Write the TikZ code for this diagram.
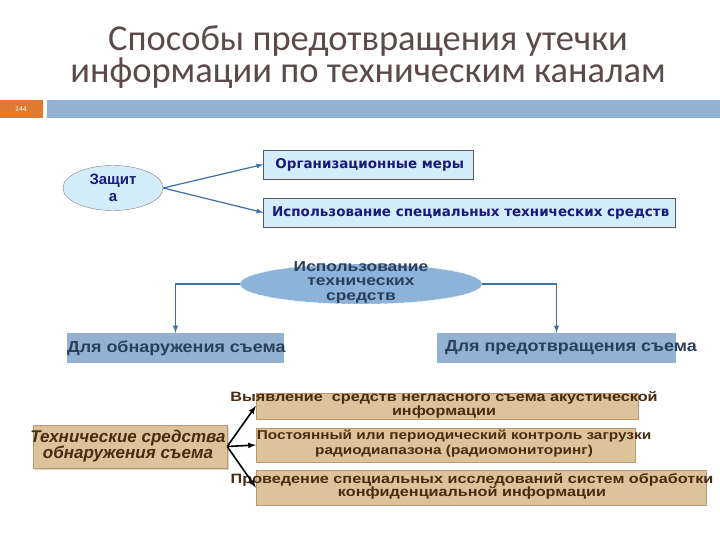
\documentclass[tikz,border=0pt]{standalone}
\usepackage{fontspec}
\setmainfont{Liberation Sans}
\newfontfamily\titlefont{Carlito}
\newfontfamily\boxfont{DejaVu Sans}
\newfontfamily\widefont[FakeStretch=1.2]{Liberation Sans}
\newfontfamily\slightwide[FakeStretch=1.12]{Liberation Sans}
\usetikzlibrary{shapes.geometric,shadows,arrows}
\definecolor{titlegray}{HTML}{5C4A4A}
\definecolor{barblue}{HTML}{93B2D2}
\definecolor{barorange}{HTML}{E07A2E}
\definecolor{paleblue}{HTML}{D3EDFA}
\definecolor{navy}{HTML}{1A1A7A}
\definecolor{steel}{HTML}{3A72A6}
\definecolor{midblue}{HTML}{8DB3D9}
\definecolor{slate}{HTML}{2A3F5C}
\definecolor{tan}{HTML}{DCC39C}
\definecolor{tanedge}{HTML}{B99A6E}
\definecolor{brown}{HTML}{4A2A10}
\tikzset{
  measure/.style={draw=gray!70!black, fill=paleblue, inner sep=0pt, anchor=west,
    minimum height=29, font=\boxfont\bfseries\fontsize{13.5}{15}\selectfont, text=navy},
  bluebox/.style={fill=barblue, inner sep=0pt, minimum height=30},
  bluetext/.style={font=\slightwide\bfseries\fontsize{16}{17}\selectfont, text=slate},
  brownbox/.style={fill=tan, draw=tanedge, inner sep=0pt},
  browntext/.style={font=\widefont\bfseries\fontsize{13.5}{13}\selectfont, text=brown, align=center},
  bluearrow/.style={->, >=latex, draw=steel, line width=1.2pt},
  blackarrow/.style={->, >=latex, draw=black, line width=1.6pt}
}
\begin{document}
\begin{tikzpicture}[x=1pt,y=-1pt]
  \useasboundingbox (0,0) rectangle (720,540);
  % title
  \node[font=\titlefont\fontsize{36.5}{32}\selectfont, text=titlegray, align=center] (title) at (368,57.5)
    {Способы предотвращения утечки\\информации по техническим каналам};
  \fill[barorange] (0,100) rectangle (43,118);
  \node[text=white, font=\fontsize{7}{8}\selectfont] (page) at (21,109) {144};
  \fill[barblue] (47,100) rectangle (720,118);
  % upper part
  \node[ellipse, draw=gray, fill=paleblue, minimum width=100, minimum height=45, inner sep=0pt,
    align=center, font=\bfseries\fontsize{15}{17}\selectfont, text=navy] (protect) at (113,188) {Защит\\а};
  \node[measure, minimum width=210] (org) at (263,164.5) {\hspace{3pt}Организационные меры\hfill};
  \node[measure, minimum width=412] (special) at (263,212.5) {\hspace{3pt}Использование специальных технических средств\hfill};
  \draw[bluearrow] (protect.east) -- (org.west);
  \draw[bluearrow] (protect.east) -- (special.west);
  % technical means
  \node[ellipse, fill=midblue, draw=white!80!midblue, dashed, minimum width=242, minimum height=40] (means) at (361,284) {};
  \node[font=\widefont\bfseries\fontsize{14.5}{14.5}\selectfont, text=slate, align=center] (meanstext) at (361,282.5)
    {Использование\\технических\\средств};
  \node[bluebox, minimum width=217] (detect) at (175.5,348) {};
  \node[bluetext, anchor=west, inner sep=0pt] (detecttext) at (detect.west) {Для обнаружения съема};
  \node[bluebox, minimum width=239] (prevent) at (556.5,348) {};
  \node[bluetext, anchor=west, inner sep=0pt] (preventtext) at ([xshift=8pt]prevent.west) {Для предотвращения съема};
  \draw[bluearrow, line width=1.5pt] (means.west) -| (detect.north);
  \draw[bluearrow, line width=1.5pt] (means.east) -| (prevent.north);
  % detection means
  \node[brownbox, minimum width=382, minimum height=26] (reveal) at (447,406) {};
  \node[browntext, font=\widefont\bfseries\fontsize{13.5}{11.5}\selectfont] (revealtext) at (444,405)
    {Выявление~ средств негласного съема акустической\\информации};
  \node[brownbox, minimum width=379, minimum height=34] (monitor) at (445.5,445) {};
  \node[browntext, font=\widefont\bfseries\fontsize{12.8}{15}\selectfont] (monitortext) at (454,444)
    {Постоянный или периодический контроль загрузки\\радиодиапазона (радиомониторинг)};
  \node[brownbox, minimum width=450, minimum height=35] (research) at (481,487.5) {};
  \node[browntext] (researchtext) at (472,486) {Проведение специальных исследований систем обработки\\конфиденциальной информации};
  \node[brownbox, drop shadow={opacity=0.35, shadow xshift=2pt, shadow yshift=-2pt},
    minimum width=194, minimum height=43] (tech) at (130,446.5) {};
  \node[font=\bfseries\itshape\fontsize{17}{16}\selectfont, text=brown, align=center] (techtext) at (128,446)
    {Технические средства\\обнаружения съема};
  \draw[blackarrow] (tech.east) -- (reveal.west);
  \draw[blackarrow] (tech.east) -- (monitor.west);
  \draw[blackarrow] (tech.east) -- (research.west);
\end{tikzpicture}
\end{document}
